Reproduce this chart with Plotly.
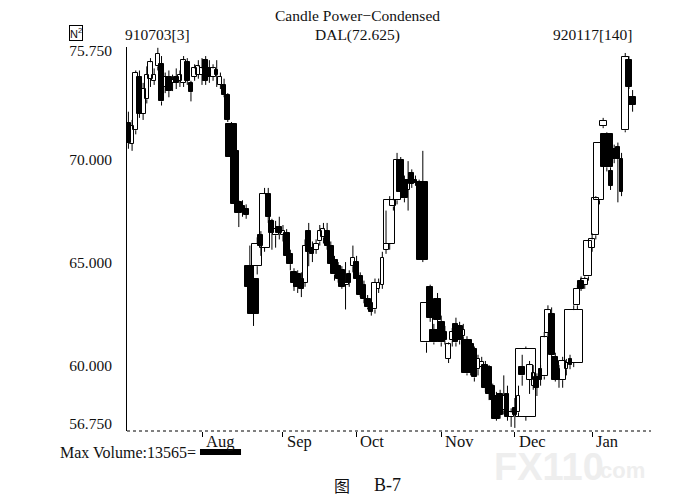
import plotly.graph_objects as go

# trading-day index: 0 = 1991-07-03 ... 137 = 1992-01-17
day = list(range(138))

open_ = [71.75, 70.75, 71.4, 74.0, 72.2, 72.9, 73.9, 73.8, 74.5, 74.6,
         73.5, 74.0, 73.7, 74.0, 73.8, 73.7, 74.7, 73.7, 74.0, 74.1,
         74.1, 74.8, 74.4, 74.0, 74.3, 73.6, 73.6, 73.1, 71.7, 70.4,
         67.9, 67.7, 67.6, 64.8, 64.2, 64.8, 66.3, 65.7, 68.3, 67.0,
         66.3, 66.7, 66.3, 66.4, 65.4, 64.5, 64.4, 64.2, 64.0, 66.5,
         65.7, 65.6, 66.0, 66.2, 66.5, 65.8, 65.1, 64.8, 64.6, 63.9,
         64.4, 64.8, 65.0, 64.3, 63.9, 63.2, 63.0, 62.7, 63.7, 63.9,
         65.6, 65.9, 67.7, 68.0, 69.95, 69.0, 68.5, 69.3, 69.0, 68.7,
         68.9, 61.1, 63.8, 61.7, 63.2, 62.1, 61.6, 60.3, 61.2, 62.0,
         61.9, 61.4, 61.2, 61.0, 60.8, 59.8, 59.9, 60.0, 59.9, 59.0,
         58.5, 58.6, 57.8, 58.6, 57.5, 57.9, 57.7, 59.9, 57.5, 59.3,
         59.0, 59.4, 59.8, 59.45, 61.55, 62.5, 60.4, 59.8, 59.27, 59.8,
         60.3, 60.1, 62.9, 64.1, 63.9, 64.3, 65.7, 66.3, 68.0, 71.6,
         71.2, 69.4, 70.5, 70.6, 70.0, 71.4, 74.8, 73.0]
high = [72.3, 71.9, 74.3, 74.3, 73.7, 74.5, 74.9, 74.4, 75.4, 75.0,
        74.2, 74.3, 74.1, 74.4, 74.3, 75.0, 74.9, 73.8, 74.6, 74.8,
        74.9, 75.0, 74.8, 74.6, 74.8, 74.2, 73.9, 73.2, 71.8, 70.5,
        68.0, 68.0, 67.8, 65.8, 64.6, 66.2, 66.5, 68.6, 68.6, 67.1,
        67.0, 67.2, 66.8, 66.6, 65.6, 64.7, 64.6, 64.5, 66.1, 66.9,
        66.0, 66.1, 66.8, 66.9, 66.9, 66.0, 65.3, 65.0, 64.8, 65.0,
        64.6, 65.8, 65.3, 64.5, 64.1, 63.4, 63.1, 64.2, 64.2, 65.5,
        67.5, 68.2, 68.1, 70.3, 70.1, 69.2, 69.9, 69.5, 69.2, 69.0,
        70.4, 63.2, 63.9, 62.0, 63.5, 62.4, 61.9, 61.1, 61.8, 62.3,
        62.1, 62.0, 61.4, 61.1, 60.9, 60.5, 60.4, 60.2, 60.0, 59.1,
        58.7, 58.8, 59.5, 59.0, 57.9, 58.4, 59.0, 60.5, 60.9, 60.2,
        60.0, 59.6, 60.0, 61.6, 62.9, 62.8, 60.6, 60.0, 60.4, 60.3,
        60.5, 62.9, 63.9, 64.3, 64.3, 66.1, 66.4, 68.2, 70.8, 72.0,
        71.3, 69.6, 70.7, 70.8, 70.3, 75.15, 75.0, 73.35]
low = [70.5, 70.4, 71.2, 72.0, 71.9, 72.7, 73.5, 73.6, 74.3, 72.6,
       73.2, 73.0, 73.3, 73.4, 73.5, 73.5, 73.6, 72.8, 73.8, 73.9,
       73.6, 73.6, 73.7, 73.8, 73.5, 73.4, 73.0, 71.8, 70.0, 67.6,
       66.7, 67.2, 67.1, 63.6, 61.9, 64.4, 65.3, 65.5, 66.9, 65.6,
       65.7, 66.1, 66.0, 65.1, 64.6, 63.6, 63.5, 63.3, 63.8, 64.8,
       65.0, 65.4, 65.8, 65.9, 65.6, 64.8, 64.1, 64.0, 63.7, 62.7,
       63.8, 64.5, 64.1, 63.3, 63.0, 62.7, 62.4, 62.5, 63.5, 63.7,
       65.4, 65.6, 67.5, 67.8, 68.3, 67.9, 67.5, 68.6, 68.7, 68.4,
       65.0, 60.6, 62.1, 61.0, 61.9, 60.9, 61.0, 60.1, 60.9, 60.9,
       61.0, 61.2, 59.5, 59.5, 59.2, 59.5, 59.6, 58.7, 58.3, 57.9,
       57.3, 57.4, 57.6, 57.3, 57.0, 56.95, 57.5, 59.0, 57.3, 58.6,
       58.8, 58.5, 59.0, 59.3, 61.4, 60.3, 59.2, 58.9, 58.9, 59.5,
       59.8, 59.9, 62.7, 63.6, 63.7, 64.1, 65.5, 66.1, 67.8, 71.5,
       69.4, 68.5, 69.8, 67.9, 68.2, 71.3, 73.4, 72.3]
close = [70.8, 71.6, 74.2, 72.2, 73.4, 74.1, 74.7, 74.1, 75.1, 72.8,
         74.0, 73.3, 73.85, 73.7, 74.1, 74.8, 73.8, 73.25, 74.4, 74.5,
         74.4, 73.8, 74.0, 74.4, 74.1, 74.0, 73.1, 71.9, 70.1, 67.8,
         67.4, 67.5, 67.3, 63.8, 62.5, 65.9, 65.8, 68.3, 67.2, 66.4,
         66.6, 66.4, 66.5, 65.3, 64.9, 64.0, 63.8, 63.7, 65.8, 65.5,
         65.4, 65.9, 66.5, 66.6, 65.8, 64.9, 64.4, 64.2, 63.8, 64.0,
         64.0, 65.2, 64.2, 63.4, 63.2, 62.8, 62.6, 64.0, 64.0, 65.2,
         65.9, 68.0, 68.0, 69.95, 68.4, 68.1, 69.0, 68.8, 68.85, 68.9,
         65.1, 63.0, 62.3, 61.1, 62.2, 61.1, 61.2, 61.0, 61.6, 61.1,
         61.2, 61.7, 59.6, 59.8, 59.4, 60.3, 60.15, 58.9, 58.6, 58.3,
         57.4, 57.6, 58.5, 57.5, 57.7, 57.6, 58.5, 59.5, 60.8, 60.0,
         59.6, 58.9, 59.3, 61.35, 62.67, 60.5, 59.3, 59.3, 60.2, 60.1,
         60.0, 62.67, 63.7, 63.7, 64.2, 66.0, 66.1, 68.1, 70.8, 71.85,
         69.6, 68.7, 70.0, 70.0, 68.4, 74.95, 73.5, 72.625]
volume = [3400, 2720, 3400, 3400, 3400, 2720, 3400, 2720, 2720, 3400,
          3400, 4080, 2720, 3400, 2720, 3400, 3400, 2720, 3400, 2720,
          2720, 3400, 2720, 3400, 2040, 2720, 2720, 3400, 7480, 5440,
          4760, 4080, 3400, 6120, 7480, 6800, 3400, 6800, 3400, 3400,
          4080, 4080, 2720, 4080, 4080, 4080, 4760, 3400, 3400, 3400,
          2720, 3400, 2720, 2720, 3400, 4080, 4080, 3400, 4080, 4760,
          2720, 2720, 3400, 4080, 3400, 4080, 2720, 3400, 2040, 2040,
          3400, 7480, 4080, 4760, 4760, 4760, 2720, 3400, 2040, 2040,
          7480, 8160, 4080, 5440, 4760, 4760, 2720, 3400, 3400, 3400,
          4080, 2720, 6800, 4080, 3400, 2720, 2720, 4080, 4080, 3400,
          5440, 4080, 4080, 2720, 4080, 2720, 2040, 4080, 13565, 4080,
          2040, 3400, 2040, 4760, 4080, 4080, 4080, 2040, 4760, 2040,
          2040, 12240, 4080, 4080, 4760, 5440, 4080, 4760, 6800, 4760,
          8160, 2720, 2040, 2720, 2040, 4760, 4080, 4760]

month_pos = [20, 42, 62, 85, 105, 126]
month_lbl = ["Aug", "Sep", "Oct", "Nov", "Dec", "Jan"]
price_ticks = [57.14, 60.0, 65.0, 70.0, 75.25]
price_lbls = ["56.750", "60.000", "65.000", "70.000", "75.750"]

VOL_PER_DAY = 2500
FONT = "Liberation Serif, Times New Roman, Noto Sans CJK SC, serif"

up = [i for i in day if close[i] >= open_[i]]
dn = [i for i in day if close[i] < open_[i]]


def bodies(idx):
    x = [day[i] for i in idx]
    base = [min(open_[i], close[i]) for i in idx]
    h = [max(abs(close[i] - open_[i]), 0.06) for i in idx]
    w = [volume[i] / VOL_PER_DAY for i in idx]
    return x, base, h, w


wx, wy = [], []
for i in day:
    top = max(open_[i], close[i])
    bot = min(open_[i], close[i])
    if high[i] > top:
        wx += [day[i], day[i], None]
        wy += [top, high[i], None]
    if low[i] < bot:
        wx += [day[i], day[i], None]
        wy += [low[i], bot, None]

fig = go.Figure()
fig.add_trace(go.Scatter(x=wx, y=wy, mode="lines",
                         line=dict(color="black", width=1),
                         hoverinfo="skip", showlegend=False))
x, b, h, w = bodies(up)
fig.add_trace(go.Bar(x=x, y=h, base=b, width=w,
                     marker=dict(color="rgba(255,255,255,0)",
                                 line=dict(color="black", width=1)),
                     showlegend=False))
x, b, h, w = bodies(dn)
fig.add_trace(go.Bar(x=x, y=h, base=b, width=w,
                     marker=dict(color="black",
                                 line=dict(color="black", width=1)),
                     showlegend=False))

# page has an 8px body margin: figure is 673x496, plot area at page x 127-651, y 47-431
fig.update_layout(
    width=673, height=496,
    margin=dict(l=119, r=30, t=39, b=73),
    paper_bgcolor="white", plot_bgcolor="white",
    barmode="overlay", bargap=0,
    font=dict(family=FONT, size=16, color="#111111"),
    xaxis=dict(range=[-0.38, 142.0], showgrid=False, zeroline=False,
               showline=False, ticks="outside", ticklen=5, tickcolor="black",
               tickvals=month_pos, showticklabels=False),
    yaxis=dict(range=[56.80, 75.44], showgrid=False, zeroline=False,
               showline=True, linecolor="black", linewidth=1,
               ticks="outside", ticklen=11, tickcolor="rgba(0,0,0,0)",
               tickvals=price_ticks, ticktext=price_lbls,
               tickfont=dict(size=15.5)),
)

# dotted baseline
fig.add_shape(type="line", xref="paper", yref="paper", x0=0, x1=1, y0=0, y1=0,
              line=dict(color="black", width=1, dash="dot"))

ann = [
    dict(x=0.805, y=-0.094, xref="paper", yref="paper", text="<b>FX110</b>",
         showarrow=False, xanchor="center", yanchor="middle",
         font=dict(size=38, family="Liberation Sans, Arial, sans-serif", color="#eeeeee")),
    dict(x=0.94, y=-0.104, xref="paper", yref="paper", text="<b>.com</b>",
         showarrow=False, xanchor="center", yanchor="middle",
         font=dict(size=22, family="Liberation Sans, Arial, sans-serif", color="#eeeeee")),
]
for p, t in zip(month_pos, month_lbl):
    ann.append(dict(x=p + 0.5, xref="x", y=-0.027, yref="paper", text=t,
                    showarrow=False, xanchor="left", yanchor="middle",
                    font=dict(size=16.5)))
ann += [
    dict(x=0.439, y=1.081, xref="paper", yref="paper", text="Candle Power\u2212Condensed",
         showarrow=False, xanchor="center", yanchor="middle", font=dict(size=15.5)),
    dict(x=0.4397, y=1.032, xref="paper", yref="paper", text="DAL(72.625)",
         showarrow=False, xanchor="center", yanchor="middle", font=dict(size=15.5)),
    dict(x=-0.0076, y=1.032, xref="paper", yref="paper", text="910703[3]",
         showarrow=False, xanchor="left", yanchor="middle", font=dict(size=15.5)),
    dict(x=0.969, y=1.032, xref="paper", yref="paper", text="920117[140]",
         showarrow=False, xanchor="right", yanchor="middle", font=dict(size=15.5)),
    dict(x=-0.0973, y=1.036, xref="paper", yref="paper", text="N<sup>2</sup>",
         showarrow=False, xanchor="center", yanchor="middle",
         font=dict(size=11, family="Liberation Sans, Arial, sans-serif"),
         bordercolor="black", borderwidth=1, borderpad=0),
    dict(x=-0.1317, y=-0.0547, xref="paper", yref="paper", text="Max Volume:13565=",
         showarrow=False, xanchor="left", yanchor="middle"),
    dict(x=0.4105, y=-0.1406, xref="paper", yref="paper", text="图",
         showarrow=False, xanchor="center", yanchor="middle",
         font=dict(size=16, family="Noto Sans CJK SC, Liberation Serif, serif")),
    dict(x=0.468, y=-0.1406, xref="paper", yref="paper", text="B-7",
         showarrow=False, xanchor="left", yanchor="middle", font=dict(size=18)),
]
fig.update_layout(annotations=ann)

fig.add_shape(type="rect", xref="paper", yref="paper", x0=0.1393, x1=0.2176,
              y0=-0.0625, y1=-0.0469, fillcolor="black", line=dict(width=0))

fig.write_html("out.html")
